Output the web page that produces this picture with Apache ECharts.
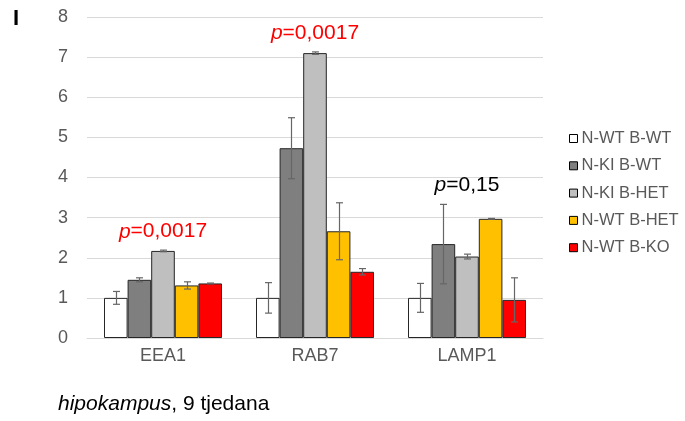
<!DOCTYPE html>
<html>
<head>
  <meta charset="utf-8">
  <script src="https://cdn.jsdelivr.net/npm/echarts@6/dist/echarts.min.js"></script>
</head>
<body style="margin:0">
<div id="main" style="width:685px;height:421px;"></div>
<script type="text/javascript">
var categories = ['EEA1', 'RAB7', 'LAMP1'];
var seriesNames = ['N-WT B-WT', 'N-KI B-WT', 'N-KI B-HET', 'N-WT B-HET', 'N-WT B-KO'];
var colors = ['#ffffff', '#7f7f7f', '#bfbfbf', '#ffc000', '#ff0000'];

// mean values per series (EEA1, RAB7, LAMP1)
var means = [
  [1.0, 1.0, 1.0],
  [1.45, 4.73, 2.34],
  [2.17, 7.10, 2.03],
  [1.31, 2.66, 2.97],
  [1.36, 1.65, 0.95]
];
// error (+/-)
var errors = [
  [0.16, 0.38, 0.36],
  [0.05, 0.76, 0.99],
  [0.02, 0.03, 0.06],
  [0.09, 0.71, 0.01],
  [0.01, 0.08, 0.55]
];

var pTexts = ['0,0017', '0,0017', '0,15'];
var pColors = ['#ff0000', '#ff0000', '#000000'];
var pLevels = [2.65, 7.6, 3.8];

var barW = 23.6;
var font = 'Liberation Sans, Arial, sans-serif';

var myChart = echarts.init(document.getElementById('main'));

var series = [];
seriesNames.forEach(function (name, i) {
  series.push({
    name: name,
    type: 'bar',
    barWidth: barW,
    barGap: '0%',
    itemStyle: { color: colors[i], borderColor: '#262626', borderWidth: 1 },
    data: means[i]
  });
});

// error bars
seriesNames.forEach(function (name, i) {
  series.push({
    type: 'custom',
    silent: true,
    z: 5,
    data: means[i].map(function (m, j) { return [j, m - errors[i][j], m + errors[i][j]]; }),
    renderItem: function (params, api) {
      var off = (i - 2) * barW;
      var lo = api.coord([api.value(0), api.value(1)]);
      var hi = api.coord([api.value(0), api.value(2)]);
      var x = Math.round(lo[0] + off) + 0.5;
      var cap = 3.5;
      var st = { stroke: '#666666', lineWidth: 1.2 };
      return {
        type: 'group',
        children: [
          { type: 'line', shape: { x1: x, y1: hi[1], x2: x, y2: lo[1] }, style: st },
          { type: 'line', shape: { x1: x - cap, y1: hi[1], x2: x + cap, y2: hi[1] }, style: st },
          { type: 'line', shape: { x1: x - cap, y1: lo[1], x2: x + cap, y2: lo[1] }, style: st }
        ]
      };
    }
  });
});

// p-value annotations
series.push({
  type: 'custom',
  silent: true,
  z: 6,
  data: pLevels.map(function (v, j) { return [j, v]; }),
  renderItem: function (params, api) {
    var j = api.value(0);
    var c = api.coord([j, api.value(1)]);
    return {
      type: 'text',
      x: c[0],
      y: c[1],
      style: {
        text: '{i|p}{n|=' + pTexts[j] + '}',
        align: 'center',
        verticalAlign: 'middle',
        rich: {
          i: { fontStyle: 'italic', fontSize: 21, fill: pColors[j], fontFamily: font },
          n: { fontSize: 21, fill: pColors[j], fontFamily: font }
        }
      }
    };
  }
});

myChart.setOption({
  animation: false,
  textStyle: { fontFamily: font },
  title: [
    {
      text: 'I',
      left: 8,
      top: 3,
      textStyle: { fontSize: 22, fontWeight: 'bold', color: '#000', fontFamily: font }
    },
    {
      text: '{i|hipokampus}{n|, 9 tjedana}',
      left: 53,
      top: 389,
      textStyle: {
        fontWeight: 'normal',
        rich: {
          i: { fontStyle: 'italic', fontWeight: 'normal', fontSize: 21, color: '#000', fontFamily: font },
          n: { fontWeight: 'normal', fontSize: 21, color: '#000', fontFamily: font }
        }
      }
    }
  ],
  legend: {
    orient: 'vertical',
    left: 564,
    top: 125,
    itemWidth: 8,
    itemHeight: 8,
    itemGap: 10.3,
    icon: 'rect',
    itemStyle: { borderColor: '#000', borderWidth: 1 },
    textStyle: { fontSize: 16.5, color: '#595959', fontFamily: font, padding: [0, 0, 0, -1] },
    data: seriesNames
  },
  grid: { left: 87, right: 142, top: 17, bottom: 83 },
  xAxis: {
    type: 'category',
    data: categories,
    axisLine: { lineStyle: { color: '#d9d9d9' } },
    axisTick: { show: false },
    axisLabel: { fontSize: 18, color: '#595959', margin: 9 }
  },
  yAxis: {
    type: 'value',
    min: 0,
    max: 8,
    interval: 1,
    axisLine: { show: false },
    axisTick: { show: false },
    axisLabel: { fontSize: 18, color: '#595959', margin: 19 },
    splitLine: { lineStyle: { color: '#d9d9d9' } }
  },
  series: series
});
</script>
</body>
</html>
